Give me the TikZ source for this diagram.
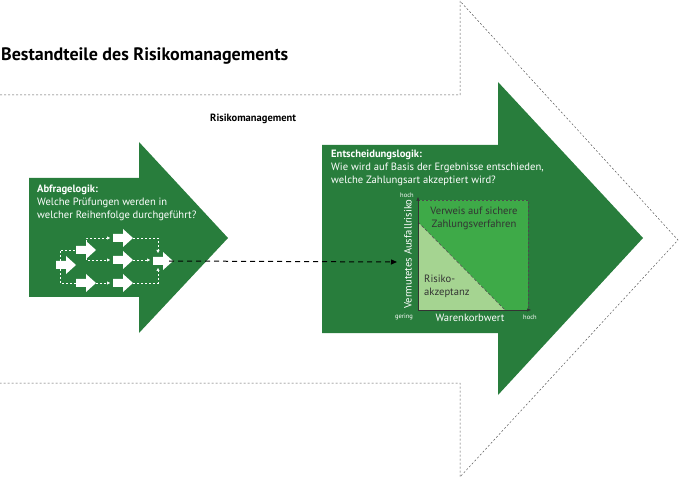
\documentclass[tikz,border=0pt]{standalone}
\usepackage{fontspec}
\setmainfont{PT Sans}
\usetikzlibrary{arrows.meta}
\definecolor{dg}{RGB}{40,125,60}
\definecolor{mg}{RGB}{62,170,72}
\definecolor{lg}{RGB}{165,212,145}
\tikzset{
  wd/.style={white,dashed,dash pattern=on 2pt off 2pt,line width=0.5pt},
  wda/.style={wd,-{Triangle[length=3pt,width=3pt]}},
  txt/.style={inner sep=0,anchor=north west,align=left,text=white,font=\fontsize{10.6}{12.8}\selectfont}
}
\newcommand{\barrow}[3]{\fill[white] (#1-10,#2-4) -- (#1,#2-4) -- (#1,#2-9) -- (#1+10,#2) -- (#1,#2+9) -- (#1,#2+4) -- (#1-10,#2+4) -- cycle; \coordinate (#3) at (#1,#2);}
\begin{document}
\begin{tikzpicture}[x=1pt,y=-1pt]
\useasboundingbox (0,0) rectangle (680,478);
\draw[gray!70!black,dashed,dash pattern=on 2pt off 2pt,line width=0.5pt] (0,95) -- (460,95) -- (460,1) -- (678,240) -- (460,477) -- (460,383) -- (0,383);
\node[anchor=west,inner sep=0,font=\bfseries\fontsize{18}{20}\selectfont] (title) at (1,56) {Bestandteile des Risikomanagements};
\node[anchor=west,inner sep=0,font=\bfseries\fontsize{10.5}{12}\selectfont] (rm) at (210,119) {Risikomanagement};
\fill[dg] (29,178) -- (139,178) -- (139,142) -- (228,238) -- (139,333) -- (139,297) -- (29,297) -- cycle;
\node[txt] (t1) at (37,185) {\textbf{Abfragelogik:}\\Welche Prüfungen werden in\\welcher Reihenfolge durchgeführt?};
\fill[dg] (322,145) -- (498,145) -- (498,82) -- (643,238) -- (498,395) -- (498,333) -- (322,333) -- cycle;
\node[txt] (t2) at (331,150) {\textbf{Entscheidungslogik:}\\Wie wird auf Basis der Ergebnisse entschieden,\\welche Zahlungsart akzeptiert wird?};
\draw[wd] (60,261) -- (60,250) -- (76,250);
\draw[wd] (60,269) -- (60,283) -- (76,283);
\draw[wda] (86,242) -- (86,238) -- (110,238);
\draw[wda] (86,258) -- (86,260) -- (110,260);
\draw[wda] (96,283) -- (110,283);
\draw[wda] (133,238) -- (158,238) -- (158,253);
\draw[wda] (133,260) -- (150,260);
\draw[wda] (133,283) -- (158,283) -- (158,268);
\barrow{66}{265}{a1}
\barrow{86}{250}{a2}
\barrow{123}{238}{a3}
\barrow{123}{260}{a4}
\barrow{86}{283}{a5}
\barrow{123}{283}{a6}
\barrow{163}{261}{a7}
\fill[mg] (418,200) rectangle (528,310);
\fill[lg] (418,222) -- (418,310) -- (505,310) -- cycle;
\draw[black!70,dashed,dash pattern=on 2pt off 2pt,line width=0.5pt] (418,200) -- (528,200) -- (528,310);
\draw[black!70,dashed,dash pattern=on 3pt off 2pt,line width=0.5pt] (418,222) -- (505,310);
\draw[black!80,line width=0.6pt,-{Triangle[length=4pt,width=3pt]}] (418,310) -- (418,197);
\draw[black!80,line width=0.6pt,-{Triangle[length=4pt,width=3pt]}] (418,310) -- (531,310);
\coordinate (yax) at (397,262);
\draw[black,line width=1pt,dash pattern=on 5pt off 4pt,-{Triangle[length=6pt,width=5pt]}] ([xshift=6pt]a7) -- (yax);
\node[txt,text=black!80,anchor=north,align=center] (v1) at (474,207) {Verweis auf sichere\\Zahlungsverfahren};
\node[txt,text=black!80] (v2) at (424,275) {Risiko-\\akzeptanz};
\node[inner sep=0,text=white,font=\fontsize{10.6}{12}\selectfont] (xl) at (470,318) {Warenkorbwert};
\node[inner sep=0,text=white,rotate=90,font=\fontsize{10.6}{12}\selectfont] (yl) at (408,254) {Vermutetes Ausfallrisiko};
\node[inner sep=0,text=white,font=\fontsize{6.5}{7}\selectfont] (h1) at (407,195) {hoch};
\node[inner sep=0,text=white,font=\fontsize{6.5}{7}\selectfont] (g) at (404,317) {gering};
\node[inner sep=0,text=white,font=\fontsize{6.5}{7}\selectfont] (h2) at (530,317) {hoch};
\end{tikzpicture}
\end{document}
